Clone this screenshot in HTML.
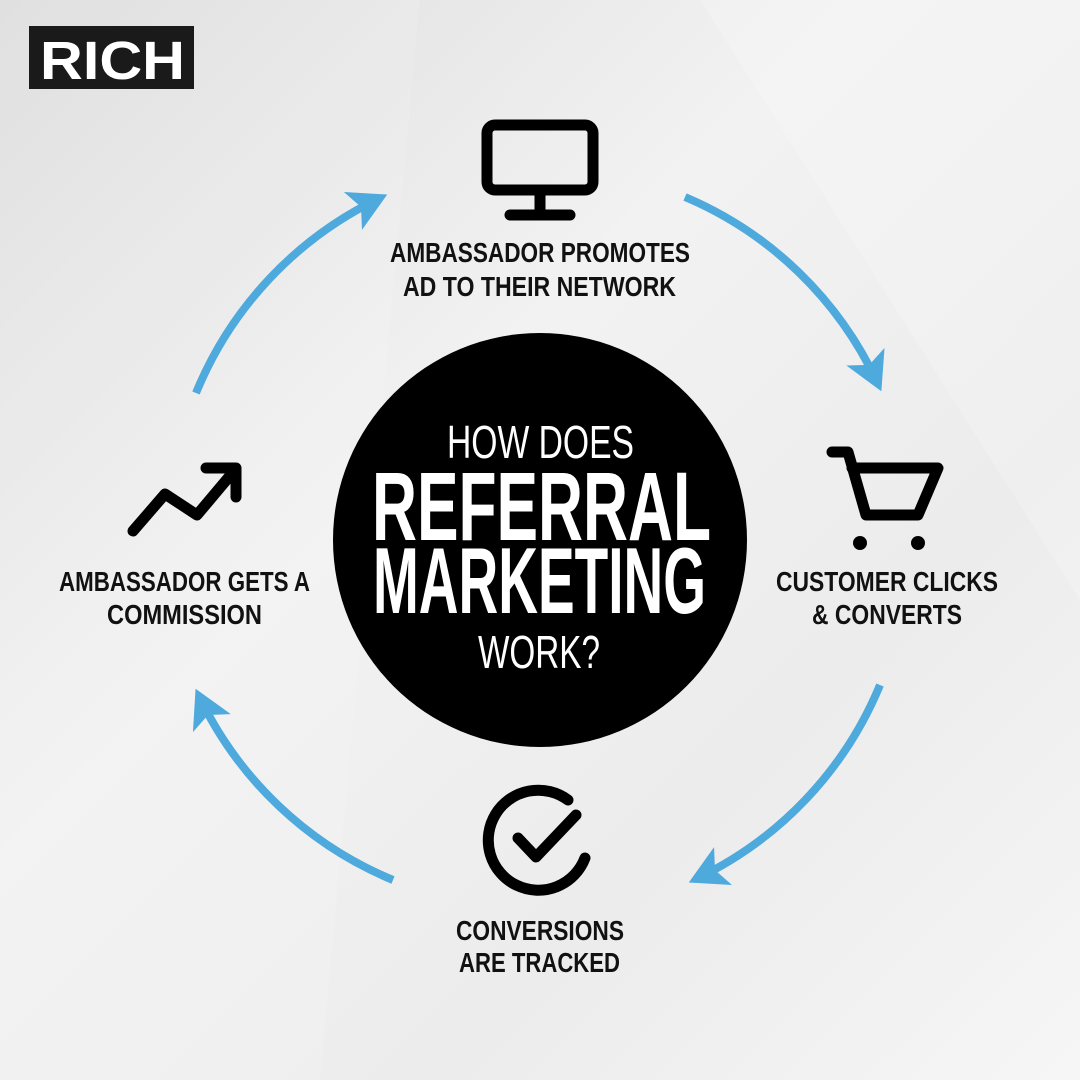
<!DOCTYPE html>
<html><head><style>
html,body{margin:0;padding:0}
body{width:1080px;height:1080px;overflow:hidden;background:linear-gradient(135deg,#dcdcdc 0%,#f2f2f2 40%,#ececec 70%,#f6f6f6 100%);position:relative}
text{font-family:"Liberation Sans",sans-serif}
</style></head><body>
<svg width="1080" height="1080" style="position:absolute;left:0;top:0">
<defs>
<marker id="ah2" markerWidth="50" markerHeight="50" refX="30" refY="21" orient="auto" markerUnits="userSpaceOnUse">
<path d="M0,0 L38,21 L0,42 L9,21 Z" fill="#4ea9dd"/>
</marker>
</defs>
<polygon points="0,0 420,0 320,1080 0,1080" fill="#ffffff" opacity="0.12"/>
<polygon points="700,0 1080,0 1080,600" fill="#ffffff" opacity="0.2"/>
<rect x="29" y="26" width="165" height="63" fill="#1a1a1a"/>
<text x="40" y="79" font-weight="bold" font-size="54" fill="#fff" textLength="145" lengthAdjust="spacingAndGlyphs">RICH</text>
<g fill="none" stroke="#4ea9dd" stroke-width="8" marker-end="url(#ah2)">
<path d="M196,393 A372,372 0 0 1 380,198"/>
<path d="M685,197 A372,372 0 0 1 878,384"/>
<path d="M880,685 A372,372 0 0 1 696,879"/>
<path d="M393,880 A372,372 0 0 1 199,696"/>
</g>
<circle cx="540" cy="540" r="207" fill="#000"/>
<g fill="#fff">
<text x="447" y="458" font-size="46" textLength="187" lengthAdjust="spacingAndGlyphs">HOW DOES</text>
<text x="372" y="540" font-weight="bold" font-size="97" textLength="339" lengthAdjust="spacingAndGlyphs">REFERRAL</text>
<text x="373" y="613" font-weight="bold" font-size="94" textLength="333" lengthAdjust="spacingAndGlyphs">MARKETING</text>
<text x="478" y="668" font-size="46" textLength="122" lengthAdjust="spacingAndGlyphs">WORK?</text>
</g>
<g fill="#111" font-weight="bold" font-size="28">
<text x="390" y="262" textLength="300" lengthAdjust="spacingAndGlyphs">AMBASSADOR PROMOTES</text>
<text x="403" y="296" textLength="273" lengthAdjust="spacingAndGlyphs">AD TO THEIR NETWORK</text>
<text x="776" y="591" textLength="222" lengthAdjust="spacingAndGlyphs">CUSTOMER CLICKS</text>
<text x="812" y="624" textLength="150" lengthAdjust="spacingAndGlyphs">&amp; CONVERTS</text>
<text x="456" y="940" textLength="168" lengthAdjust="spacingAndGlyphs">CONVERSIONS</text>
<text x="459" y="972" textLength="161" lengthAdjust="spacingAndGlyphs">ARE TRACKED</text>
<text x="59" y="591" textLength="251" lengthAdjust="spacingAndGlyphs">AMBASSADOR GETS A</text>
<text x="107" y="624" textLength="155" lengthAdjust="spacingAndGlyphs">COMMISSION</text>
</g>
<g fill="none" stroke="#000" stroke-width="11" stroke-linecap="round" stroke-linejoin="round">
<rect x="487" y="125" width="106" height="65" rx="8"/>
<line x1="540" y1="192" x2="540" y2="212"/>
<line x1="510" y1="215" x2="570" y2="215"/>
<polyline points="133,531 165,494 197,515 234,471"/>
<polyline points="206,468 236,468 236,497"/>
<polyline points="832,452 848,452 866,515 918,515 938,468 852,468"/>
<path d="M585,858 A50,50 0 1 1 568,800"/>
<polyline points="518,838 536,857 576,815"/>
</g>
<circle cx="860" cy="543" r="7" fill="#000"/>
<circle cx="918" cy="543" r="7" fill="#000"/>
</svg>
</body></html>
